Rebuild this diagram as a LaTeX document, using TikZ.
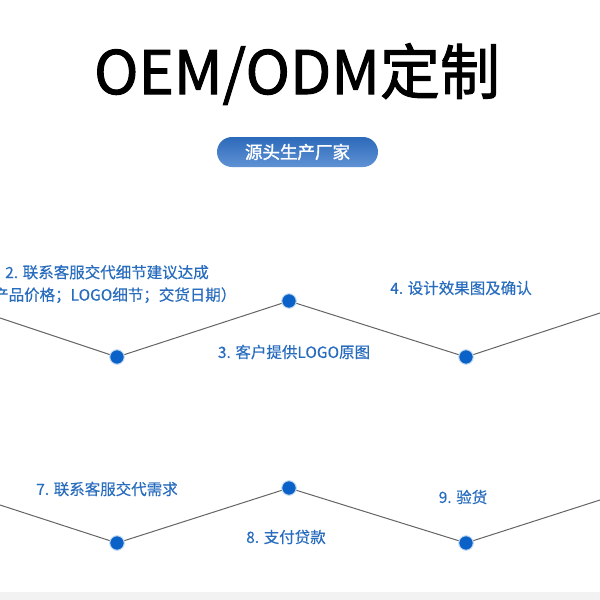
\documentclass[tikz,border=0pt]{standalone}
\usepackage{fontspec}
\usepackage{tikz}
\usepackage{xcolor}
\usetikzlibrary{positioning, calc}
\setmainfont{Noto Sans CJK SC}
\newfontfamily\titlefont{Noto Sans CJK SC}[FakeBold=1.6]
\newfontfamily\stepfont{Noto Sans CJK SC}[FakeBold=0.4]
\definecolor{stepBlue}{RGB}{40,108,190}
\definecolor{dotBlue}{RGB}{10,98,200}
\definecolor{pillTop}{RGB}{44,106,186}
\definecolor{pillBot}{RGB}{96,146,212}
\definecolor{lineGray}{RGB}{100,100,100}
\definecolor{bandGray}{RGB}{242,242,242}

\begin{document}
\begin{tikzpicture}[x=1pt, y=-1pt,
  dot/.style={circle, fill=dotBlue, draw=dotBlue!25, line width=1pt,
              minimum size=14.5pt, inner sep=0pt},
  steptext/.style={text=stepBlue, align=center,
                   font=\stepfont\fontsize{15.5}{22.5}\selectfont},
  zigline/.style={draw=lineGray, line width=1pt},
]
  \useasboundingbox (0,0) rectangle (600,600);
  \fill[bandGray] (0,592) rectangle (600,600);

  \node[font=\titlefont\fontsize{60}{60}\selectfont] (title) at (297,74) {OEM/ODM定制};
  \node[rounded corners=15pt, minimum width=161pt, minimum height=30pt,
        top color=pillTop, bottom color=pillBot, text=white,
        font=\titlefont\fontsize{17.5}{17.5}\selectfont] (factory) at (297.5,152) {源头生产厂家};

  % top row
  \coordinate (a0) at (0,318);
  \node[dot] (a1) at (117,357) {};
  \node[dot] (a2) at (289,301) {};
  \node[dot] (a3) at (466,357) {};
  \coordinate (a4) at (600,313);
  \draw[zigline] (a0) -- (a1) -- (a2) -- (a3) -- (a4);

  \node[steptext] (s2) at (107,284) {2. 联系客服交代细节建议达成\\（产品价格；LOGO细节；交货日期）};
  \node[steptext] (s3) at (294,352) {3. 客户提供LOGO原图};
  \node[steptext] (s4) at (461,288) {4. 设计效果图及确认};

  % bottom row
  \coordinate (b0) at (0,505);
  \node[dot] (b1) at (117,543) {};
  \node[dot] (b2) at (289,488) {};
  \node[dot] (b3) at (466,543) {};
  \coordinate (b4) at (600,500);
  \draw[zigline] (b0) -- (b1) -- (b2) -- (b3) -- (b4);

  \node[steptext] (s7) at (107,489) {7. 联系客服交代需求};
  \node[steptext] (s8) at (286,537) {8. 支付贷款};
  \node[steptext] (s9) at (463,497) {9. 验货};
\end{tikzpicture}
\end{document}
